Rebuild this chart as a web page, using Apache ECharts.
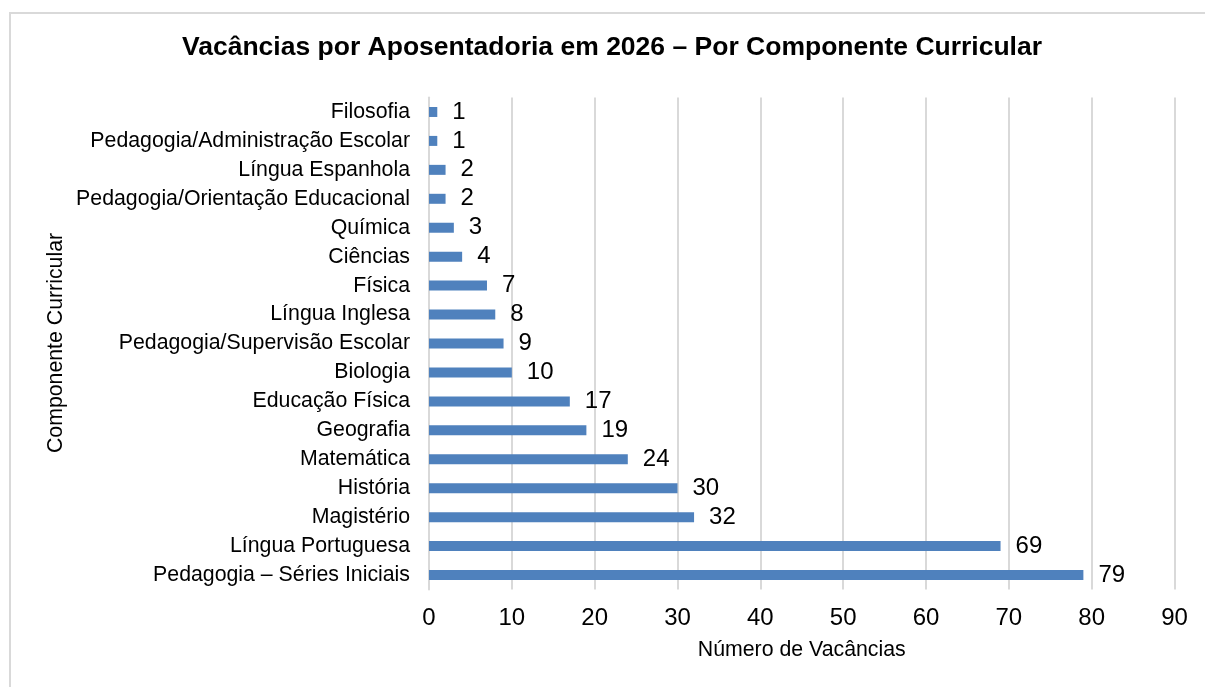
<!DOCTYPE html>
<html>
<head>
<meta charset="utf-8">
<script src="https://cdn.jsdelivr.net/npm/echarts@6/dist/echarts.min.js"></script>
<style>html,body{margin:0;padding:0;background:#fff;}#c{width:1205px;height:687px;}</style>
</head>
<body>
<div id="c"></div>
<script>
var categories = ["Filosofia","Pedagogia/Administração Escolar","Língua Espanhola","Pedagogia/Orientação Educacional","Química","Ciências","Física","Língua Inglesa","Pedagogia/Supervisão Escolar","Biologia","Educação Física","Geografia","Matemática","História","Magistério","Língua Portuguesa","Pedagogia – Séries Iniciais"];
var values = [1,1,2,2,3,4,7,8,9,10,17,19,24,30,32,69,79];
var xTicks = {min:0, max:90, interval:10};
var titleText = "Vacâncias por Aposentadoria em 2026 – Por Componente Curricular";
var xName = "Número de Vacâncias";
var yName = "Componente Curricular";

var FONT = "'Liberation Sans', Arial, sans-serif";
var chart = echarts.init(document.getElementById('c'), null, {renderer:'canvas'});
chart.setOption({
  animation:false,
  backgroundColor:'#fff',
  grid:{left:429, right:30.5, top:97.5, bottom:97.5},
  graphic:[
    {type:'rect', shape:{x:10,y:13,width:1220,height:700}, style:{fill:'none', stroke:'#d9d9d9', lineWidth:2}, silent:true, z:-1},
    {type:'text', x:612, y:48, style:{text:titleText, font:"bold 26.5px " + FONT, fill:'#000', textAlign:'center', textVerticalAlign:'middle'}},
    {type:'text', x:56, y:343, rotation:Math.PI/2, style:{text:yName, font:"21.3px " + FONT, fill:'#000', textAlign:'center', textVerticalAlign:'middle'}}
  ],
  xAxis:{
    type:'value', min:xTicks.min, max:xTicks.max, interval:xTicks.interval,
    name:xName, nameLocation:'middle', nameGap:50,
    nameTextStyle:{fontFamily:FONT, fontSize:21.3, color:'#000'},
    axisLine:{show:false}, axisTick:{show:false},
    axisLabel:{fontFamily:FONT, fontSize:24, color:'#000', margin:17},
    splitLine:{show:true, lineStyle:{color:'#d9d9d9', width:2}}
  },
  yAxis:{
    type:'category', data:categories, inverse:true,
    axisLine:{show:true, lineStyle:{color:'#d9d9d9', width:2}},
    axisTick:{show:false},
    axisLabel:{fontFamily:FONT, fontSize:21.3, color:'#000', margin:19}
  },
  series:[{
    type:'bar', data:values, barWidth:10,
    itemStyle:{color:'#4F81BD'},
    label:{show:true, position:'right', distance:15, fontFamily:FONT, fontSize:24, color:'#000'}
  }]
});
</script>
</body>
</html>
